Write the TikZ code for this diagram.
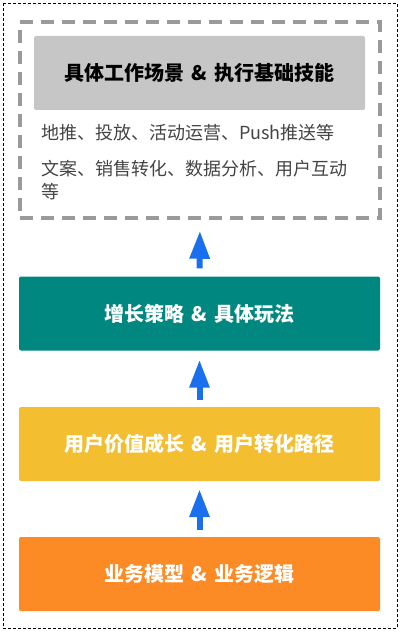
\documentclass[tikz,border=0pt]{standalone}
\usepackage{fontspec}
\setmainfont{Noto Sans CJK SC}
\usetikzlibrary{arrows.meta}
\definecolor{framegray}{HTML}{9A9A9A}
\definecolor{boxgray}{HTML}{C6C6C6}
\definecolor{txtgray}{HTML}{444444}
\definecolor{tealc}{HTML}{00877F}
\definecolor{yellowc}{HTML}{F3BE30}
\definecolor{orangec}{HTML}{FD8B25}
\definecolor{bluec}{HTML}{1A6FEE}
\newcommand{\amp}{\hspace{0.35em}\&\hspace{0.35em}}
\tikzset{
  layer/.style={rounded corners=2pt, minimum width=361pt, minimum height=74pt, inner sep=0pt,
    text=white, font=\bfseries\fontsize{20}{23}\selectfont},
  bodytxt/.style={anchor=west, inner sep=0pt, text=txtgray, font=\fontsize{18}{21}\selectfont},
  upar/.style={draw=bluec, line width=6pt, -{Triangle[width=19pt,length=28pt]}},
}
\begin{document}
\begin{tikzpicture}[x=1pt,y=-1pt]
\useasboundingbox (0,0) rectangle (401,631);
\draw[black, line width=0.8pt, dash pattern=on 3pt off 2pt] (3,3) rectangle (397,628);
\node[draw=framegray, line width=3.5pt, dash pattern=on 13pt off 8pt, minimum width=360pt, minimum height=196pt, inner sep=0pt] (frame) at (200,120) {};
\node[fill=boxgray, rounded corners=2pt, minimum width=331pt, minimum height=74pt, inner sep=0pt, font=\bfseries\fontsize{20}{23}\selectfont] (title) at (199.5,73) {具体工作场景\amp 执行基础技能};
\node[bodytxt] (l1) at (41,133) {地推、投放、活动运营、Push推送等};
\node[bodytxt] (l2) at (41,169) {文案、销售转化、数据分析、用户互动};
\node[bodytxt] (l3) at (41,192) {等};
\node[layer, fill=tealc] (teal) at (199.5,313.5) {增长策略\amp 具体玩法};
\node[layer, fill=yellowc] (yellow) at (199.5,444) {用户价值成长\amp 用户转化路径};
\node[layer, fill=orangec] (orange) at (199.5,574) {业务模型\amp 业务逻辑};
\draw[upar, shorten <=8pt, shorten >=11pt] (teal.north) -- (frame.south);
\draw[upar, shorten <=7pt, shorten >=9pt] (yellow.north) -- (teal.south);
\draw[upar, shorten <=7pt, shorten >=8pt] (orange.north) -- (yellow.south);
\end{tikzpicture}
\end{document}
